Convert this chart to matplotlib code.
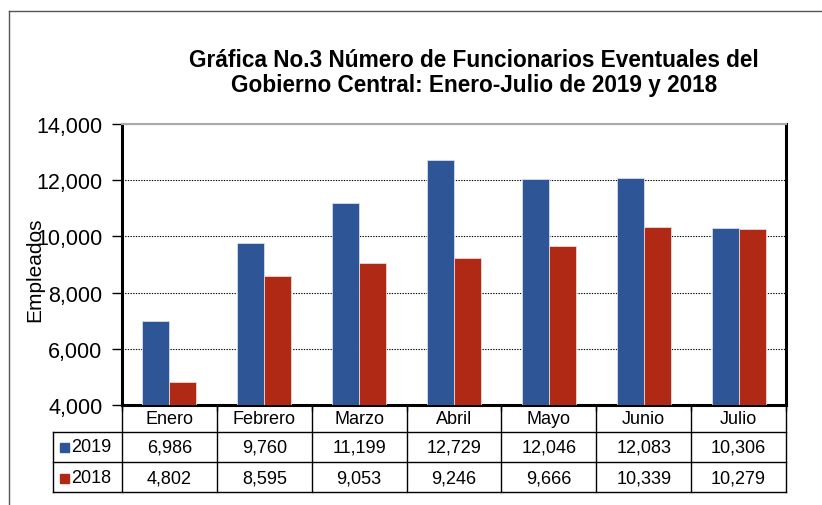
import matplotlib
matplotlib.use("Agg")
import matplotlib.pyplot as plt
from matplotlib.patches import Rectangle
from matplotlib.lines import Line2D
import numpy as np

categories = ["Enero", "Febrero", "Marzo", "Abril", "Mayo", "Junio", "Julio"]
series_names = ["2019", "2018"]
values_2019 = [6986, 9760, 11199, 12729, 12046, 12083, 10306]
values_2018 = [4802, 8595, 9053, 9246, 9666, 10339, 10279]
yticks = [4000, 6000, 8000, 10000, 12000, 14000]
title = "Gráfica No.3 Número de Funcionarios Eventuales del\nGobierno Central: Enero-Julio de 2019 y 2018"
ylabel = "Empleados"

colors = ["#2E5596", "#AF2914"]

plt.rcParams['font.family'] = ['Liberation Sans', 'DejaVu Sans']

W, H = 822, 506
fig = plt.figure(figsize=(W / 100, H / 100), dpi=100)

def fx(px):
    return px / W

def fy(py):
    return 1 - py / H

# outer frame (top and left)
fig.add_artist(Line2D([fx(9), fx(9)], [fy(12), fy(506)], color="#555555", lw=1.0))
fig.add_artist(Line2D([fx(9), fx(822)], [fy(12), fy(12)], color="#555555", lw=1.0))

ax_l, ax_r, ax_t, ax_b = 122, 786, 125, 406
ax = fig.add_axes([fx(ax_l), fy(ax_b), fx(ax_r - ax_l), fy(ax_t) - fy(ax_b)])

x = np.arange(len(categories))
bw = 0.285
ax.bar(x - bw / 2, values_2019, width=bw, color=colors[0], edgecolor="#D8DCE8", linewidth=0.6, zorder=3)
ax.bar(x + bw / 2, values_2018, width=bw, color=colors[1], edgecolor="#E8D8D8", linewidth=0.6, zorder=3)

ax.set_xlim(-0.5, len(categories) - 0.5)
ax.set_ylim(4000, 14000)
ax.set_yticks(yticks)
ax.set_yticklabels([f"{v:,}" for v in yticks], fontsize=15.5)
ax.set_xticks(np.arange(-0.5, len(categories), 1.0))
ax.set_xticklabels([])
ax.tick_params(axis="x", length=4, width=1, direction="out")
ax.tick_params(axis="y", length=7, width=1, direction="out", pad=7)
ax.yaxis.grid(True, linestyle=(0, (1.2, 1.2)), color="black", linewidth=0.8, zorder=0)
for s in ["left", "bottom", "right"]:
    ax.spines[s].set_linewidth(2.2)
    ax.spines[s].set_color("black")
ax.spines["top"].set_color("#AAAAAA")
ax.spines["top"].set_linewidth(1.5)

fig.text(fx(35), fy(270), ylabel, rotation=90, ha="center", va="center", fontsize=15)
fig.text(fx(474), fy(73), title, ha="center", va="center", fontsize=16.3, fontweight="bold",
         linespacing=1.15)

# data table
tab = fig.add_axes([fx(ax_l), fy(493), fx(ax_r - ax_l), fy(406) - fy(493)])
tab.set_xlim(-0.5, len(categories) - 0.5)
tab.set_ylim(0, 87)  # pixel rows, top=87
tab.axis("off")
colw = (ax_r - ax_l) / len(categories)
left_edge = -0.5 - (ax_l - 53) / colw
row_lines = [87 - 27, 87 - 57, 0]  # 433, 463, 493
lc = "black"
lw = 1.0
for i in range(len(categories) + 1):
    tab.plot([i - 0.5, i - 0.5], [0, 87], color=lc, lw=lw, clip_on=False)
for yl in row_lines:
    tab.plot([left_edge, len(categories) - 0.5], [yl, yl], color=lc, lw=lw, clip_on=False)
tab.plot([left_edge, left_edge], [0, row_lines[0]], color=lc, lw=lw, clip_on=False)

for i, c in enumerate(categories):
    tab.text(i, 87 - 14, c, ha="center", va="center", fontsize=13)
rows_y = [87 - 42, 87 - 73]
for r, (name, vals) in enumerate(zip(series_names, [values_2019, values_2018])):
    yc = rows_y[r]
    for i, v in enumerate(vals):
        tab.text(i, yc, f"{v:,}", ha="center", va="center", fontsize=13)
    kx = left_edge + 7 / colw
    tab.add_patch(Rectangle((kx, yc - 4.5), 9 / colw, 9, color=colors[r], clip_on=False))
    tab.text(kx + 11 / colw, yc, name, ha="left", va="center", fontsize=13)

fig.savefig("out.png", dpi=100)
